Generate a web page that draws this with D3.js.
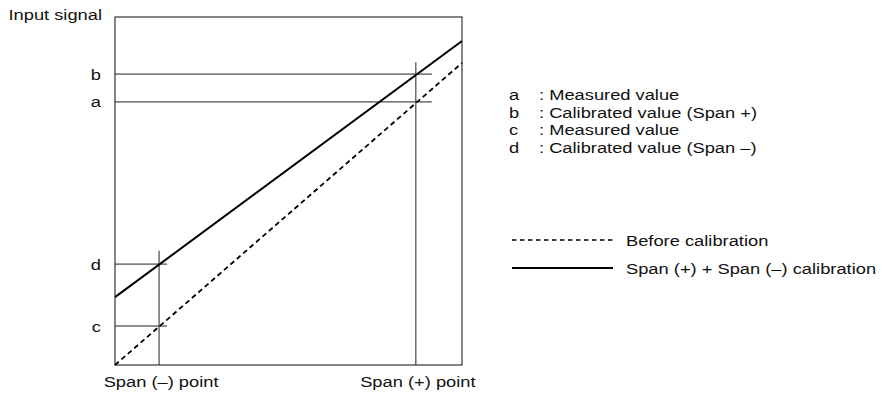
<!DOCTYPE html>
<html><head><meta charset="utf-8">
<script src="https://cdn.jsdelivr.net/npm/d3@7"></script>
<style>body{margin:0;background:#fff}svg{display:block}text{font-family:"Liberation Sans",Arial,Helvetica,sans-serif;fill:#111}</style>
</head><body>
<script>
// Data (arbitrary units, 0..10 domain)
const spanPoints = [1.27, 8.67];            // Span (–) point, Span (+) point
const spanLabels = ["Span (–) point", "Span (+) point"];
const beforeLine = [[0, 0], [10, 8.68]];      // Before calibration
const afterLine = [[0, 1.95], [10, 9.31]];    // Span (+) + Span (–) calibration
const levelNames = ["b", "a", "d", "c"];
const levelValues = [8.36, 7.56, 2.90, 1.12];
const levelAt = [1, 1, 0, 0];                 // index in spanPoints
const legendKeys = ["a", "b", "c", "d"];
const legendTexts = [": Measured value", ": Calibrated value (Span +)", ": Measured value", ": Calibrated value (Span –)"];
const lineLegend = ["Before calibration", "Span (+) + Span (–) calibration"];

const W = 884, H = 394;
const SX = 1.22, FS = 15;
const svg = d3.select("body").append("svg").attr("width", W).attr("height", H);
const x = d3.scaleLinear().domain([0, 10]).range([115, 462]);
const y = d3.scaleLinear().domain([0, 10]).range([365, 17]);

function label(tx, ty, str, anchor) {
  return svg.append("text").attr("transform", `translate(${tx},${ty}) scale(${SX},1)`)
    .attr("text-anchor", anchor || "start").attr("font-size", FS).text(str);
}

// Box
svg.append("rect").attr("x", x(0)).attr("y", y(10)).attr("width", x(10) - x(0)).attr("height", y(0) - y(10))
  .attr("fill", "none").attr("stroke", "#222").attr("stroke-width", 1.1);

// Horizontal level lines
levelValues.forEach((v, i) => {
  const xe = x(spanPoints[levelAt[i]]) + (levelAt[i] === 1 ? 16 : 8);
  svg.append("line").attr("x1", x(0)).attr("x2", xe).attr("y1", y(v)).attr("y2", y(v))
    .attr("stroke", "#222").attr("stroke-width", 1);
  label(101, y(v) + 5.5, levelNames[i], "end");
});

// Vertical span lines
spanPoints.forEach((s, i) => {
  const top = i === 0 ? y(3.285) : y(8.7);
  svg.append("line").attr("x1", x(s)).attr("x2", x(s)).attr("y1", top).attr("y2", y(0))
    .attr("stroke", "#222").attr("stroke-width", 1);
  label(x(s) + 2, 387, spanLabels[i], "middle");
});

const line = d3.line().x(d => x(d[0])).y(d => y(d[1]));
svg.append("path").datum(beforeLine).attr("d", line).attr("fill", "none")
  .attr("stroke", "#000").attr("stroke-width", 1.8).attr("stroke-dasharray", "5,3.5");
svg.append("path").datum(afterLine).attr("d", line).attr("fill", "none")
  .attr("stroke", "#000").attr("stroke-width", 2);

// Y title
label(102, 20, "Input signal", "end");

// Legend text
legendKeys.forEach((k, i) => {
  const yy = 100 + i * 17.7;
  label(509, yy, k);
  label(539, yy, legendTexts[i]);
});

// Line legend
lineLegend.forEach((t, i) => {
  const yy = 240 + i * 28;
  svg.append("line").attr("x1", 512).attr("x2", 613).attr("y1", yy).attr("y2", yy)
    .attr("stroke", "#000").attr("stroke-width", i === 0 ? 1.6 : 1.8)
    .attr("stroke-dasharray", i === 0 ? "4.5,3.5" : null);
  label(626, yy + 5.5, t);
});
</script>
</body></html>
